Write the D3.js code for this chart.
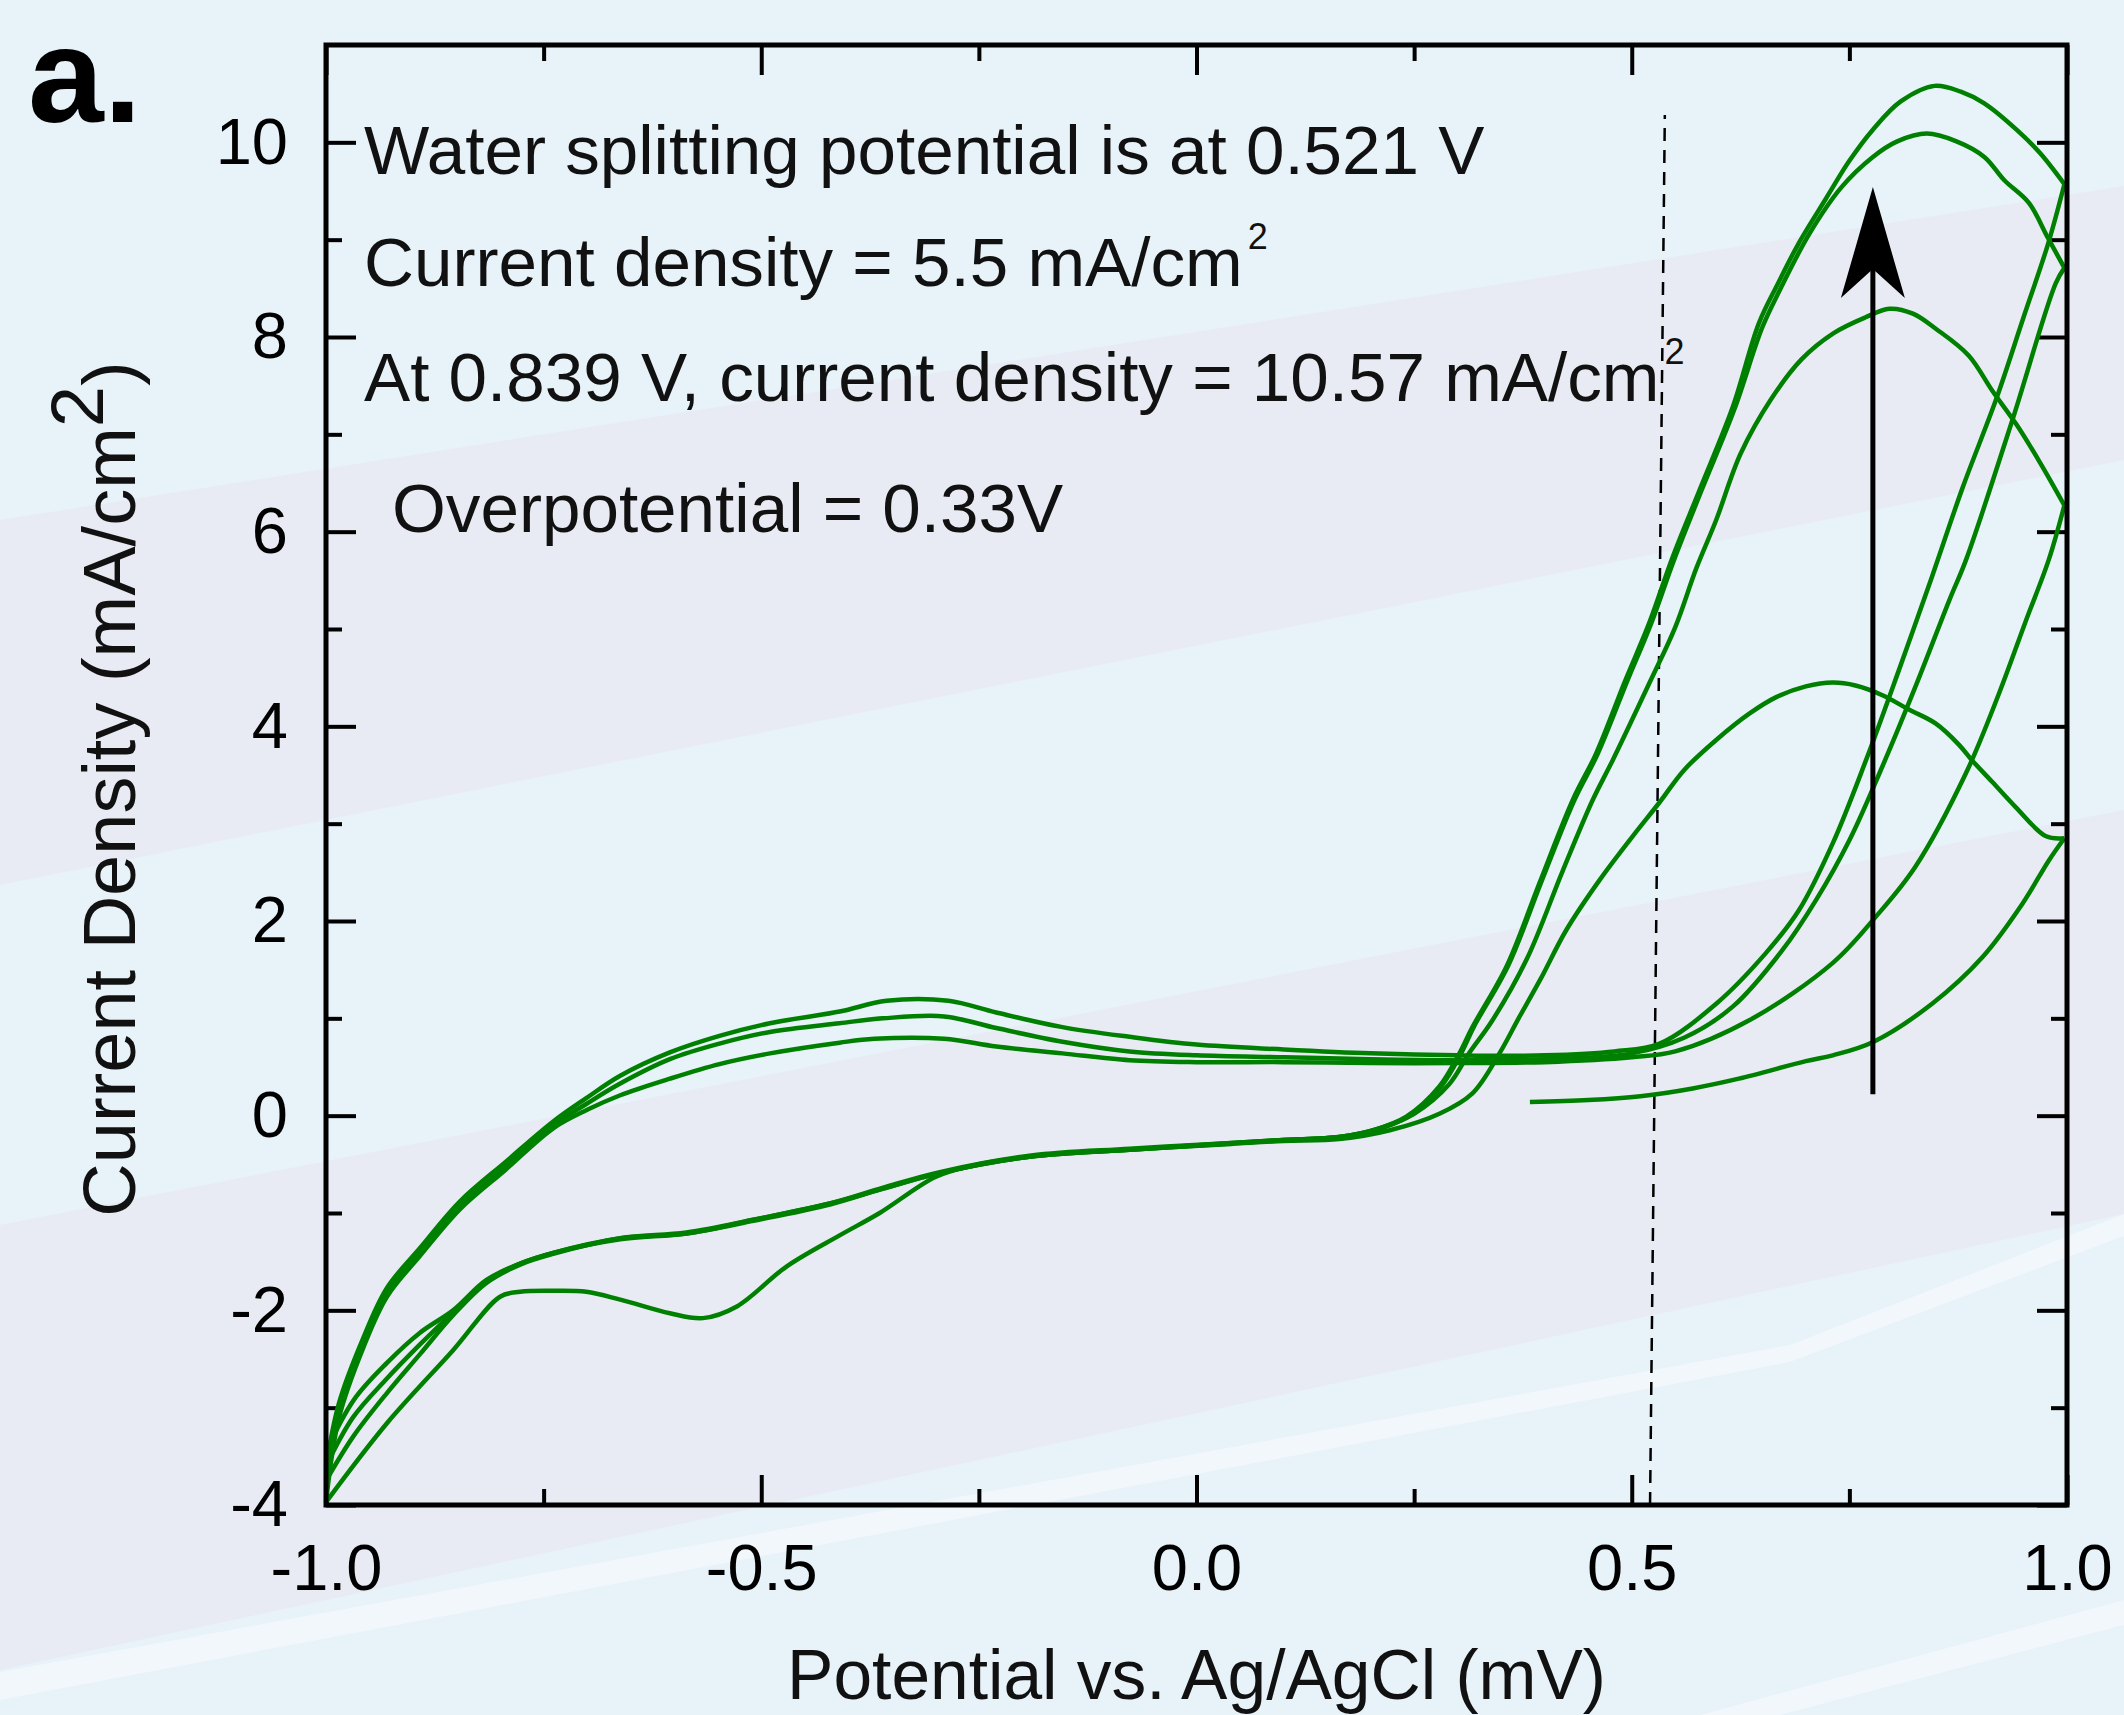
<!DOCTYPE html>
<html>
<head>
<meta charset="utf-8">
<script src="https://cdn.jsdelivr.net/npm/d3@7"></script>
<style>
  body { margin: 0; background: #e7f2f9; }
  svg { display: block; }
</style>
</head>
<body>
<script>
const W = 2124, H = 1715;

// axis ticks
const xTicks = [-1.0, -0.5, 0.0, 0.5, 1.0];
const xMinor = [-0.75, -0.25, 0.25, 0.75];
const yTicks = [-4, -2, 0, 2, 4, 6, 8, 10];
const yMinor = [-3, -1, 1, 3, 5, 7, 9];

// CV scans [potential V, current density mA/cm2]
const scan1Fwd = [[0.383, 0.14], [0.45, 0.16], [0.51, 0.2], [0.57, 0.28], [0.623, 0.38], [0.70, 0.56], [0.731, 0.62],
  [0.778, 0.76], [0.845, 1.15], [0.903, 1.63], [0.949, 2.18], [0.979, 2.62], [0.997, 2.85]];
const scan1Rev = [[0.997, 2.85], [0.976, 2.87], [0.941, 3.17], [0.914, 3.43], [0.891, 3.65], [0.876, 3.81], [0.849, 4.03],
  [0.819, 4.17], [0.788, 4.32], [0.757, 4.42], [0.731, 4.45], [0.700, 4.41], [0.666, 4.30], [0.635, 4.13], [0.597, 3.86],
  [0.560, 3.55], [0.532, 3.22], [0.501, 2.87], [0.463, 2.42], [0.425, 1.91], [0.395, 1.40], [0.370, 1.0], [0.348, 0.64],
  [0.317, 0.23], [0.279, 0.02], [0.222, -0.15], [0.164, -0.24], [0.10, -0.26], [0.04, -0.29], [-0.077, -0.35],
  [-0.19, -0.42], [-0.26, -0.52], [-0.30, -0.63], [-0.364, -1.0], [-0.41, -1.23], [-0.471, -1.55], [-0.528, -1.96],
  [-0.567, -2.08], [-0.605, -2.03], [-0.662, -1.89], [-0.701, -1.81], [-0.74, -1.80], [-0.777, -1.81], [-0.80, -1.86],
  [-0.854, -2.41], [-0.930, -3.16], [-1.0, -3.97]];
const scan2Fwd = [[-1.0, -3.97], [-0.985, -3.1], [-0.957, -2.38], [-0.930, -1.86], [-0.892, -1.44], [-0.846, -0.96],
  [-0.793, -0.55], [-0.739, -0.13], [-0.70, 0.06], [-0.662, 0.21], [-0.605, 0.38], [-0.548, 0.53], [-0.49, 0.64],
  [-0.41, 0.75], [-0.37, 0.79], [-0.29, 0.79], [-0.23, 0.71], [-0.154, 0.64], [-0.077, 0.57], [0.0, 0.55], [0.1, 0.55],
  [0.2, 0.54], [0.3, 0.54], [0.4, 0.55], [0.5, 0.6], [0.55, 0.66], [0.635, 0.98], [0.731, 1.57], [0.780, 2.04],
  [0.826, 2.56], [0.884, 3.52], [0.922, 4.34], [0.953, 5.09], [0.979, 5.71], [0.997, 6.27]];
const scan2Rev = [[0.997, 6.27], [0.969, 6.71], [0.942, 7.10], [0.914, 7.45], [0.887, 7.81], [0.850, 8.08], [0.823, 8.24],
  [0.796, 8.29], [0.768, 8.20], [0.732, 8.04], [0.695, 7.77], [0.66, 7.36], [0.625, 6.80], [0.597, 6.12], [0.574, 5.62],
  [0.550, 5.02], [0.520, 4.44], [0.478, 3.65], [0.455, 3.24], [0.42, 2.5], [0.38, 1.62], [0.34, 0.98], [0.313, 0.64],
  [0.29, 0.32], [0.25, 0.02], [0.21, -0.13], [0.164, -0.22], [0.10, -0.25], [0.04, -0.28], [-0.077, -0.34],
  [-0.19, -0.41], [-0.295, -0.58], [-0.36, -0.74], [-0.42, -0.90], [-0.509, -1.07], [-0.586, -1.20], [-0.662, -1.26],
  [-0.739, -1.42], [-0.777, -1.53], [-0.816, -1.72], [-0.854, -2.05], [-0.892, -2.45], [-0.93, -2.85], [-0.969, -3.3],
  [-1.0, -3.75]];
const scan3Fwd = [[-1.0, -3.75], [-0.985, -3.02], [-0.957, -2.33], [-0.930, -1.82], [-0.892, -1.41], [-0.846, -0.93],
  [-0.793, -0.52], [-0.739, -0.10], [-0.701, 0.12], [-0.662, 0.33], [-0.605, 0.58], [-0.548, 0.74], [-0.49, 0.86],
  [-0.41, 0.95], [-0.36, 1.0], [-0.29, 1.02], [-0.23, 0.90], [-0.154, 0.76], [-0.077, 0.66], [0.0, 0.62], [0.1, 0.6],
  [0.2, 0.58], [0.3, 0.57], [0.4, 0.58], [0.5, 0.64], [0.56, 0.80], [0.616, 1.12], [0.673, 1.70], [0.712, 2.22],
  [0.750, 2.83], [0.788, 3.59], [0.826, 4.41], [0.865, 5.30], [0.884, 5.71], [0.937, 7.14], [0.987, 8.55], [0.997, 8.71]];
const scan3Rev = [[0.997, 8.71], [0.978, 9.02], [0.956, 9.38], [0.928, 9.61], [0.905, 9.85], [0.873, 10.01], [0.839, 10.09],
  [0.805, 10.01], [0.777, 9.85], [0.741, 9.54], [0.704, 9.06], [0.670, 8.48], [0.650, 8.10], [0.618, 7.26], [0.580, 6.42],
  [0.549, 5.72], [0.522, 5.05], [0.495, 4.47], [0.461, 3.72], [0.434, 3.24], [0.396, 2.40], [0.358, 1.54], [0.319, 0.92],
  [0.304, 0.64], [0.281, 0.30], [0.243, -0.01], [0.205, -0.15], [0.164, -0.22], [0.10, -0.25], [0.04, -0.28],
  [-0.077, -0.35], [-0.19, -0.42], [-0.295, -0.59], [-0.36, -0.75], [-0.42, -0.91], [-0.509, -1.08], [-0.586, -1.21],
  [-0.662, -1.27], [-0.739, -1.41], [-0.777, -1.52], [-0.816, -1.70], [-0.854, -2.02], [-0.892, -2.35], [-0.93, -2.7],
  [-0.969, -3.1], [-1.0, -3.6]];
const scan4Fwd = [[-1.0, -3.6], [-0.985, -2.95], [-0.957, -2.28], [-0.930, -1.77], [-0.892, -1.36], [-0.846, -0.88],
  [-0.793, -0.47], [-0.739, -0.06], [-0.701, 0.18], [-0.662, 0.41], [-0.605, 0.65], [-0.548, 0.82], [-0.49, 0.95],
  [-0.41, 1.07], [-0.356, 1.18], [-0.285, 1.18], [-0.23, 1.06], [-0.154, 0.91], [-0.077, 0.81], [0.0, 0.73], [0.1, 0.68],
  [0.2, 0.64], [0.3, 0.62], [0.4, 0.62], [0.48, 0.66], [0.532, 0.74], [0.597, 1.15], [0.654, 1.67], [0.692, 2.11],
  [0.731, 2.80], [0.769, 3.65], [0.807, 4.58], [0.845, 5.54], [0.88, 6.45], [0.919, 7.37], [0.95, 8.2], [0.978, 8.95],
  [0.997, 9.57]];
const scan4Rev = [[0.997, 9.57], [0.969, 9.89], [0.942, 10.13], [0.905, 10.40], [0.878, 10.52], [0.848, 10.58],
  [0.809, 10.42], [0.777, 10.13], [0.750, 9.81], [0.723, 9.42], [0.691, 8.95], [0.668, 8.55], [0.646, 8.14],
  [0.616, 7.28], [0.578, 6.43], [0.547, 5.74], [0.520, 5.06], [0.493, 4.48], [0.459, 3.72], [0.432, 3.24], [0.394, 2.39],
  [0.356, 1.53], [0.317, 0.91], [0.302, 0.64], [0.279, 0.30], [0.241, -0.01], [0.203, -0.15], [0.164, -0.22],
  [0.10, -0.25], [0.04, -0.285], [-0.077, -0.35], [-0.19, -0.42], [-0.295, -0.59], [-0.36, -0.75], [-0.42, -0.90],
  [-0.509, -1.07], [-0.586, -1.21], [-0.662, -1.26], [-0.739, -1.41], [-0.777, -1.52], [-0.816, -1.69], [-0.854, -2.0],
  [-0.892, -2.23], [-0.930, -2.54], [-0.968, -2.92], [-1.0, -3.45]];
const scans = [scan1Fwd, scan1Rev, scan2Fwd, scan2Rev, scan3Fwd, scan3Rev, scan4Fwd, scan4Rev];

// annotations
const splitLine = [[0.521, -4], [0.538, 10.28]];   // dashed marker at 0.521 V
const arrowLine = [[0.777, 0.22], [0.777, 9.54]];  // growth arrow
const notes = [
  ["Water splitting potential is at 0.521 V", ""],
  ["Current density = 5.5 mA/cm", "2"],
  ["At 0.839 V, current density = 10.57 mA/cm", "2"],
  ["Overpotential = 0.33V", ""]
];

const font = "'Liberation Sans', Arial, Helvetica, sans-serif";
const green = "#008000";

const svg = d3.select("body").append("svg")
  .attr("width", W).attr("height", H)
  .attr("viewBox", [0, 0, W, H]);

// background: pale slide bands and light streaks
svg.append("rect").attr("width", W).attr("height", H).attr("fill", "#e7f2f9");
svg.append("path").attr("d", `M0,520L${W},186L${W},460L0,885Z`).attr("fill", "#e9ebf4");
svg.append("path").attr("d", `M0,1225L${W},810L${W},1214L0,1670Z`).attr("fill", "#e9ebf4");
svg.append("path").attr("d", `M0,1672L1790,1345L${W},1214L${W},1236L1790,1362L0,1700Z`)
  .attr("fill", "#f3f8fb").attr("opacity", 0.85);
svg.append("path").attr("d", `M1700,${H}L${W},1600L${W},1625L1780,${H}Z`)
  .attr("fill", "#f3f8fb").attr("opacity", 0.85);

const x = d3.scaleLinear().domain([-1, 1]).range([326, 2067]);
const y = d3.scaleLinear().domain([-4, 11]).range([1505, 45]);

// axes, ticks pointing inward
function styleAxis(g) {
  g.select(".domain").remove();
  g.selectAll(".tick line").attr("stroke", "#000").attr("stroke-width", 4);
  g.selectAll("text").attr("fill", "#000").attr("font-family", font).attr("font-size", 65);
}

svg.append("g").attr("transform", `translate(0,${y(-4)})`)
  .call(d3.axisBottom(x).tickValues(xTicks).tickFormat(d => d.toFixed(1))
    .tickSizeInner(-30).tickSizeOuter(0).tickPadding(39))
  .call(styleAxis);
svg.append("g").attr("transform", `translate(0,${y(-4)})`)
  .call(d3.axisBottom(x).tickValues(xMinor).tickFormat("").tickSizeInner(-16).tickSizeOuter(0))
  .call(styleAxis);
svg.append("g").attr("transform", `translate(0,${y(11)})`)
  .call(d3.axisTop(x).tickValues(xTicks).tickFormat("").tickSizeInner(-30).tickSizeOuter(0))
  .call(styleAxis);
svg.append("g").attr("transform", `translate(0,${y(11)})`)
  .call(d3.axisTop(x).tickValues(xMinor).tickFormat("").tickSizeInner(-16).tickSizeOuter(0))
  .call(styleAxis);
svg.append("g").attr("transform", `translate(${x(-1)},0)`)
  .call(d3.axisLeft(y).tickValues(yTicks).tickFormat(d => String(d))
    .tickSizeInner(-30).tickSizeOuter(0).tickPadding(38))
  .call(styleAxis);
svg.append("g").attr("transform", `translate(${x(-1)},0)`)
  .call(d3.axisLeft(y).tickValues(yMinor).tickFormat("").tickSizeInner(-16).tickSizeOuter(0))
  .call(styleAxis);
svg.append("g").attr("transform", `translate(${x(1)},0)`)
  .call(d3.axisRight(y).tickValues(yTicks).tickFormat("").tickSizeInner(-30).tickSizeOuter(0))
  .call(styleAxis);
svg.append("g").attr("transform", `translate(${x(1)},0)`)
  .call(d3.axisRight(y).tickValues(yMinor).tickFormat("").tickSizeInner(-16).tickSizeOuter(0))
  .call(styleAxis);

// dashed potential marker
svg.append("path")
  .attr("d", d3.line().x(d => x(d[0])).y(d => y(d[1]))(splitLine))
  .attr("stroke", "#000").attr("stroke-width", 2.5)
  .attr("stroke-dasharray", "13,9").attr("fill", "none");

// voltammogram scans
const line = d3.line()
  .x(d => x(d[0])).y(d => y(d[1]))
  .curve(d3.curveCatmullRom.alpha(0.5));

svg.append("g")
  .attr("fill", "none").attr("stroke", green)
  .attr("stroke-width", 4.5).attr("stroke-linejoin", "round")
  .selectAll("path")
  .data(scans)
  .join("path")
  .attr("d", line);

// arrow
const ax = x(arrowLine[0][0]), tipY = y(arrowLine[1][1]);
svg.append("line")
  .attr("x1", ax).attr("x2", ax)
  .attr("y1", y(arrowLine[0][1])).attr("y2", tipY + 80)
  .attr("stroke", "#000").attr("stroke-width", 5);
svg.append("path")
  .attr("d", `M${ax},${tipY}L${ax + 32},${tipY + 111}L${ax},${tipY + 82}L${ax - 32},${tipY + 111}Z`)
  .attr("fill", "#000");

// frame
svg.append("rect")
  .attr("x", x(-1)).attr("y", y(11))
  .attr("width", x(1) - x(-1)).attr("height", y(-4) - y(11))
  .attr("fill", "none").attr("stroke", "#000").attr("stroke-width", 5);

// text notes
const noteX = [364, 364, 364, 392];
const noteY = [174, 286, 401, 532];
notes.forEach(([txt, sup], i) => {
  const t = svg.append("text")
    .attr("x", noteX[i]).attr("y", noteY[i])
    .attr("font-family", font).attr("font-size", 69.2).attr("fill", "#111")
    .text(txt);
  if (sup) {
    t.append("tspan").attr("font-size", 36).attr("dx", 5).attr("dy", -37).text(sup);
  }
});

// axis titles
svg.append("text")
  .attr("x", (x(-1) + x(1)) / 2).attr("y", 1699)
  .attr("text-anchor", "middle")
  .attr("font-family", font).attr("font-size", 69.5).attr("fill", "#111")
  .text("Potential vs. Ag/AgCl (mV)");

const yt = svg.append("text")
  .attr("transform", `translate(135,789) rotate(-90)`)
  .attr("text-anchor", "middle")
  .attr("font-family", font).attr("font-size", 74).attr("fill", "#111")
  .text("Current Density (mA/cm");
yt.append("tspan").attr("dy", -32).text("2");
yt.append("tspan").attr("dy", 32).text(")");

// panel letter
svg.append("text")
  .attr("x", 28).attr("y", 122)
  .attr("font-family", font).attr("font-size", 136).attr("font-weight", "bold")
  .attr("fill", "#000")
  .text("a.");
</script>
</body>
</html>
